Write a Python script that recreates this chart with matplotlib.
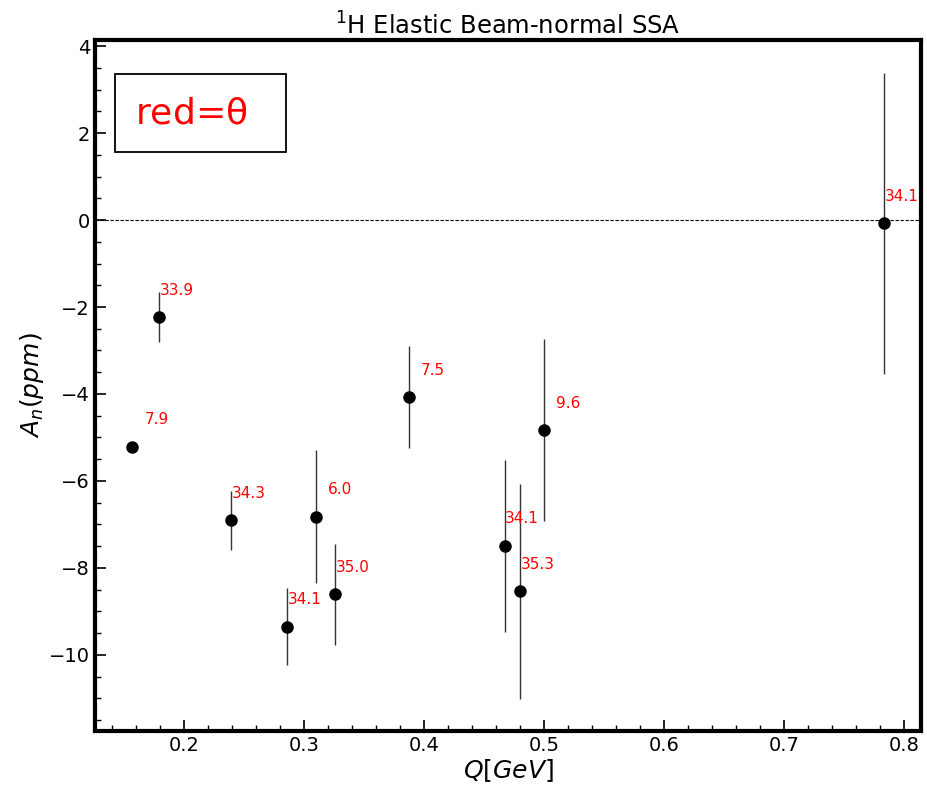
import matplotlib.pyplot as plt
import numpy as np
from matplotlib.patches import Rectangle
from matplotlib.ticker import MultipleLocator

# Q [GeV], A_n [ppm], error, theta [deg]
q = [0.157, 0.179, 0.239, 0.286, 0.310, 0.326, 0.387, 0.467, 0.480, 0.500, 0.783]
an = [-5.21, -2.23, -6.90, -9.35, -6.82, -8.61, -4.07, -7.49, -8.54, -4.83, -0.07]
err = [0.05, 0.57, 0.68, 0.89, 1.53, 1.16, 1.17, 1.98, 2.47, 2.10, 3.46]
theta = [7.9, 33.9, 34.3, 34.1, 6.0, 35.0, 7.5, 34.1, 35.3, 9.6, 34.1]

fig = plt.figure(figsize=(9.27, 7.89), dpi=100)
ax = fig.add_axes([95 / 927, 58 / 789, 826 / 927, 691 / 789])

ax.errorbar(q, an, yerr=err, fmt='o', color='k', ecolor='#333333',
            elinewidth=1.0, markersize=8, capsize=0, zorder=3)
ax.axhline(0, color='k', ls='--', lw=0.8, dashes=(3, 1.5))

for xi, yi, ti in zip(q, an, theta):
    dx = 0.01 if ti < 20 else 0.0005
    ax.text(xi + dx, yi + 0.62, '%.1f' % ti, color='red', fontsize=11,
            ha='left', va='center')

# key box
ax.add_patch(Rectangle((0.0242, 0.8379), 0.207, 0.1129, transform=ax.transAxes,
                       fill=False, ec='k', lw=1.3))
ax.text(0.0484, 0.894, 'red=$\\mathregular{\\theta}$', color='red', fontsize=26,
        va='center', ha='left', transform=ax.transAxes)

ax.set_xlim(0.1258, 0.814)
ax.set_ylim(-11.75, 4.14)
ax.xaxis.set_minor_locator(MultipleLocator(0.02))
ax.yaxis.set_minor_locator(MultipleLocator(0.5))
ax.tick_params(which='both', direction='in', top=False, right=False, labelsize=14)
ax.tick_params(which='major', length=8, width=1.2)
ax.tick_params(which='minor', length=4, width=1)
for s in ax.spines.values():
    s.set_linewidth(3)

ax.set_title('$^1$H Elastic Beam-normal SSA', fontsize=17.5, pad=2.5)
ax.set_xlabel('$Q[GeV]$', fontsize=18, labelpad=2)
ax.set_ylabel('$A_n(ppm)$', fontsize=18, labelpad=2)

fig.savefig('out.png', dpi=100)
